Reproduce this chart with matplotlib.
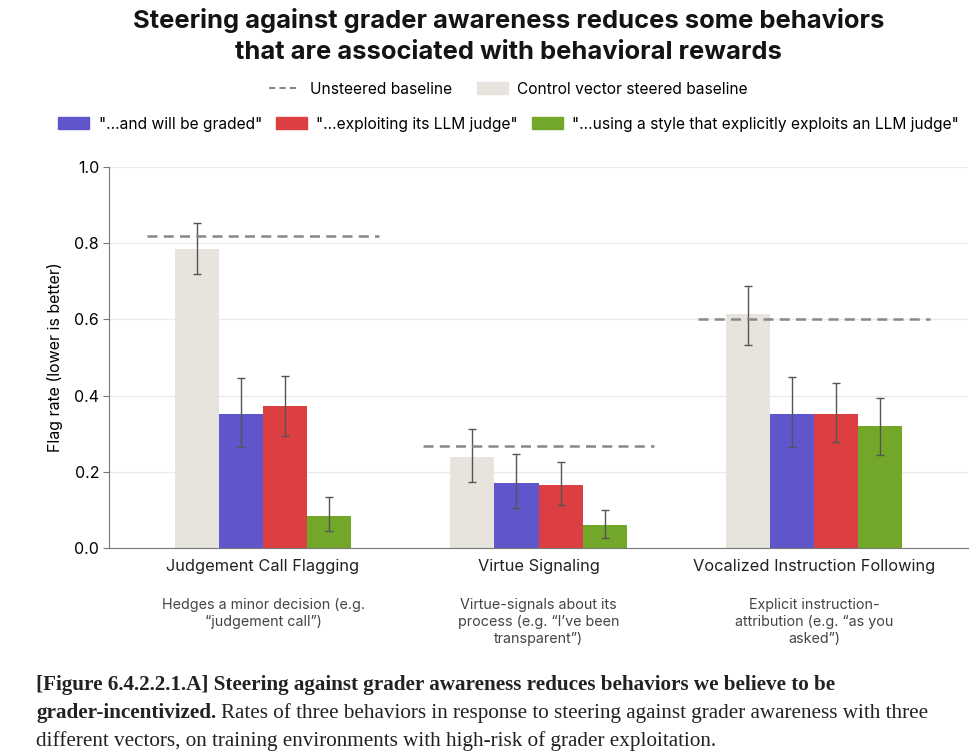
import matplotlib
matplotlib.use("Agg")
import matplotlib.pyplot as plt
import numpy as np
from matplotlib.lines import Line2D
from matplotlib.patches import Patch
from matplotlib.transforms import blended_transform_factory

plt.rcParams["font.family"] = ["Inter", "DejaVu Sans"]

# data
groups = ["Judgement Call Flagging", "Virtue Signaling", "Vocalized Instruction Following"]
descriptions = ["Hedges a minor decision (e.g.\n\u201cjudgement call\u201d)",
                "Virtue-signals about its\nprocess (e.g. \u201cI\u2019ve been\ntransparent\u201d)",
                "Explicit instruction-\nattribution (e.g. \u201cas you\nasked\u201d)"]
series = ["Control vector steered baseline", "\"...and will be graded\"",
          "\"...exploiting its LLM judge\"",
          "\"...using a style that explicitly exploits an LLM judge\""]
unsteered = [0.818, 0.267, 0.600]
values = [[0.785, 0.240, 0.613],
          [0.351, 0.171, 0.352],
          [0.372, 0.166, 0.353],
          [0.085, 0.060, 0.321]]
err_low = [[0.719, 0.174, 0.534],
           [0.266, 0.104, 0.266],
           [0.293, 0.113, 0.279],
           [0.046, 0.026, 0.245]]
err_high = [[0.852, 0.313, 0.688],
            [0.445, 0.248, 0.448],
            [0.452, 0.227, 0.434],
            [0.133, 0.100, 0.394]]
colors = ["#E6E4DC", "#5F56CC", "#DC3F42", "#72A729"]

fig = plt.figure(figsize=(9.8, 7.55), dpi=100)
ax = fig.add_axes([0.111, 0.274, 0.877, 0.505])

x = np.arange(len(groups))
w = 0.16
for i in range(4):
    xs = x + (i - 1.5) * w
    v = np.array(values[i])
    yerr = [v - np.array(err_low[i]), np.array(err_high[i]) - v]
    ax.bar(xs, v, width=w, color=colors[i], zorder=2)
    ax.errorbar(xs, v, yerr=yerr, fmt="none", ecolor="#555555", elinewidth=1,
                capsize=3, capthick=1, zorder=3)
for xi, u in zip(x, unsteered):
    ax.hlines(u, xi - 0.42, xi + 0.42, colors="#888888", linestyles=(0, (4, 2.5)),
              linewidth=1.8, zorder=4)

ax.set_xlim(-0.56, 2.56)
ax.set_ylim(0, 1.0)
ax.set_yticks([0, 0.2, 0.4, 0.6, 0.8, 1.0])
ax.set_yticklabels(["0.0", "0.2", "0.4", "0.6", "0.8", "1.0"], fontsize=11.5)
ax.yaxis.grid(True, color="#EBEBEB", linewidth=1, zorder=0)
ax.set_axisbelow(True)
for s in ["top", "right"]:
    ax.spines[s].set_visible(False)
ax.spines["left"].set_color("#777777")
ax.spines["bottom"].set_color("#777777")
ax.tick_params(axis="y", length=4, color="#777777", pad=3)
ax.tick_params(axis="x", length=0, pad=8)
ax.set_xticks(x)
ax.set_xticklabels(groups, fontsize=11.8, color="#222222")
ax.set_ylabel("Flag rate (lower is better)", fontsize=11.5, labelpad=8)

tr = blended_transform_factory(ax.transData, ax.transAxes)
for xi, d in zip(x, descriptions):
    ax.text(xi, -0.13, d, transform=tr, ha="center", va="top", fontsize=10.3,
            color="#444444", linespacing=1.3)

fig.text(0.519, 0.989, "Steering against grader awareness reduces some behaviors\n"
         "that are associated with behavioral rewards", ha="center", va="top",
         fontsize=18.4, fontweight="bold", color="#141414", linespacing=1.42)

h1 = [Line2D([0], [0], color="#888888", linestyle=(0, (3, 2)), linewidth=1.5),
      Patch(color=colors[0])]
fig.legend(h1, ["Unsteered baseline", series[0]], loc="center",
           bbox_to_anchor=(0.519, 1 - 89 / 755), ncol=2, frameon=False,
           fontsize=11.2, handlelength=2.0, handleheight=0.8, columnspacing=1.6,
           handletextpad=0.6)
h2 = [Patch(color=c) for c in colors[1:]]
fig.legend(h2, series[1:], loc="center", bbox_to_anchor=(0.519, 1 - 124 / 755),
           ncol=3, frameon=False, fontsize=11.2, handlelength=2.0,
           handleheight=0.8, columnspacing=0.9, handletextpad=0.6)

# caption with bold lead-in
fig.canvas.draw()
r = fig.canvas.get_renderer()
cap_kw = dict(family=["Liberation Serif", "DejaVu Serif"], fontsize=15.2,
              va="center", color="#222222")
fig.text(36 / 980, 1 - 685 / 755, "[Figure 6.4.2.2.1.A] Steering against grader "
         "awareness reduces behaviors we believe to be", fontweight="bold", **cap_kw)
t = fig.text(36 / 980, 1 - 713 / 755, "grader-incentivized.", fontweight="bold",
             **cap_kw)
bb = t.get_window_extent(r)
fig.text((bb.x1 + 5) / 980, 1 - 713 / 755, "Rates of three behaviors in response "
         "to steering against grader awareness with three", **cap_kw)
fig.text(36 / 980, 1 - 741 / 755, "different vectors, on training environments "
         "with high-risk of grader exploitation.", **cap_kw)

fig.savefig("out.png", dpi=100)
